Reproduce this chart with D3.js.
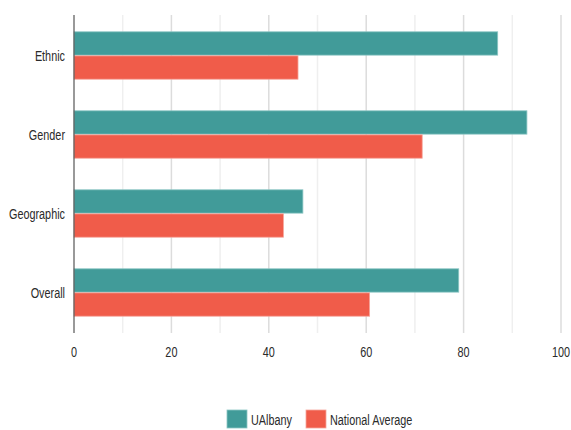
<!DOCTYPE html>
<html>
<head>
<meta charset="utf-8">
<script src="https://cdn.jsdelivr.net/npm/d3@7"></script>
<style>
  body { margin: 0; background: #fff; }
  text { font-family: "Liberation Sans", Arial, sans-serif; fill: #2a2a2a; }
</style>
</head>
<body>
<svg class="svg" width="571" height="430"></svg>
<script>
const categories = ["Ethnic", "Gender", "Geographic", "Overall"];
const seriesNames = ["UAlbany", "National Average"];
const ualbany = [87, 93, 47, 79];
const national = [46, 71.5, 43, 60.7];
const xTicks = [0, 20, 40, 60, 80, 100];
const colors = ["#419b99", "#f05c4a"];

const svg = d3.select(".svg");
const plotLeft = 74, plotRight = 561, plotTop = 15, plotBottom = 333;
const squeeze = 0.7; // condensed look of the original font
const fontSize = 15.5;

const x = d3.scaleLinear().domain([0, 100]).range([plotLeft, plotRight]);
const y = d3.scaleBand().domain(categories).range([16, 332]).paddingInner(0.4).paddingOuter(0.2);
const sub = d3.scaleBand().domain(seriesNames).range([0, y.bandwidth()]).paddingInner(0.03);

// grid lines every 10
svg.append("g").selectAll("line").data(d3.range(10, 101, 10)).join("line")
  .attr("x1", d => x(d)).attr("x2", d => x(d))
  .attr("y1", plotTop).attr("y2", plotBottom)
  .attr("stroke", d => d % 20 === 0 ? "#dcdcdc" : "#efefef")
  .attr("stroke-width", 1.5);

const rows = categories.map((c, i) => ({ cat: c, vals: [ualbany[i], national[i]] }));

svg.append("g").selectAll("g").data(rows).join("g")
  .attr("transform", d => `translate(0,${y(d.cat)})`)
  .selectAll("rect").data(d => d.vals.map((v, j) => ({ v, s: seriesNames[j], j })))
  .join("rect")
  .attr("x", x(0))
  .attr("y", d => sub(d.s))
  .attr("width", d => x(d.v) - x(0))
  .attr("height", sub.bandwidth())
  .attr("fill", d => colors[d.j])
  .attr("stroke", d => d.j === 0 ? "#8cc6c4" : "#f6a69c")
  .attr("stroke-width", 0.8);

// left axis line
svg.append("line").attr("x1", plotLeft).attr("x2", plotLeft).attr("y1", plotTop).attr("y2", plotBottom)
  .attr("stroke", "#555").attr("stroke-width", 1.2);

// category labels
svg.append("g").selectAll("text").data(categories).join("text")
  .attr("transform", d => `translate(${plotLeft - 9},${y(d) + y.bandwidth() / 2 + 1.5}) scale(${squeeze},1)`)
  .attr("text-anchor", "end")
  .attr("dominant-baseline", "middle")
  .attr("font-size", fontSize)
  .text(d => d);

// x tick labels
svg.append("g").selectAll("text").data(xTicks).join("text")
  .attr("transform", d => `translate(${x(d)},353) scale(${squeeze},1)`)
  .attr("text-anchor", "middle")
  .attr("dominant-baseline", "middle")
  .attr("font-size", fontSize)
  .text(d => d);

// legend
const legendX = [227, 306];
const lg = svg.append("g").selectAll("g").data(seriesNames).join("g")
  .attr("transform", (d, i) => `translate(${legendX[i]},410)`);
lg.append("rect").attr("width", 20).attr("height", 18)
  .attr("fill", (d, i) => colors[i])
  .attr("stroke", (d, i) => i === 0 ? "#8cc6c4" : "#f6a69c").attr("stroke-width", 0.8);
lg.append("text")
  .attr("transform", `translate(24,10.5) scale(${squeeze},1)`)
  .attr("dominant-baseline", "middle").attr("font-size", fontSize)
  .text(d => d);
</script>
</body>
</html>
